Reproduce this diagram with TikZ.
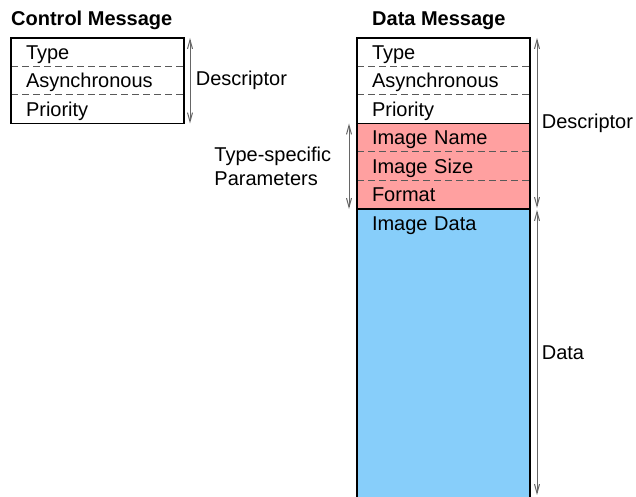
\documentclass[tikz,border=0pt]{standalone}
\usepackage{fontspec}
\setmainfont{Liberation Sans}
\usetikzlibrary{positioning,arrows.meta}
\definecolor{paramred}{RGB}{255,160,160}
\definecolor{datablue}{RGB}{135,206,250}
\tikzset{
  field/.style={minimum width=173pt, minimum height=28.5pt, inner xsep=15pt, inner ysep=0pt,
    outer sep=0pt, text width=143pt, align=left, text height=14pt, text depth=0pt},
  boxedge/.style={line width=1.5pt},
  rowline/.style={dash pattern=on 7pt off 4pt, draw=black!65, line width=1pt},
  spanarrow/.style={{Straight Barb[length=9pt,width=5pt]}-{Straight Barb[length=9pt,width=5pt]},
    draw=black!60, line width=1pt},
  msgtitle/.style={font=\fontsize{20}{24}\selectfont\bfseries, inner sep=0pt, anchor=base west}
}
\begin{document}
\begin{tikzpicture}[x=1pt,y=-1pt,font=\fontsize{20}{24}\selectfont]
  \useasboundingbox (0,0) rectangle (636,497);
  \clip (0,0) rectangle (636,497);
  % control message
  \node[field, anchor=north west] (ctype) at (11,38) {Type};
  \node[field, below=0pt of ctype] (casync) {Asynchronous};
  \node[field, below=0pt of casync] (cprio) {Priority};
  \draw[rowline] (ctype.south west) -- (ctype.south east);
  \draw[rowline] (casync.south west) -- (casync.south east);
  \draw[boxedge] (ctype.north west) rectangle (cprio.south east);
  \node[msgtitle] (ctitle) at ([yshift=12pt]ctype.north west) {Control Message};
  \draw[spanarrow] ([xshift=6pt]ctype.north east) -- node[right=2pt] (cdesc) {Descriptor} ([xshift=6pt]cprio.south east);
  % data message
  \node[field, anchor=north west] (dtype) at (357,38) {Type};
  \node[field, below=0pt of dtype] (dasync) {Asynchronous};
  \node[field, below=0pt of dasync] (dprio) {Priority};
  \node[field, fill=paramred, below=0pt of dprio] (dname) {Image Name};
  \node[field, fill=paramred, below=0pt of dname] (dsize) {Image Size};
  \node[field, fill=paramred, below=0pt of dsize] (dfmt) {Format};
  \node[field, fill=datablue, inner ysep=7.25pt, text depth=264pt, below=0pt of dfmt] (dimg) {Image Data};
  \draw[rowline] (dtype.south west) -- (dtype.south east);
  \draw[rowline] (dasync.south west) -- (dasync.south east);
  \draw[rowline] (dname.south west) -- (dname.south east);
  \draw[rowline] (dsize.south west) -- (dsize.south east);
  \draw[boxedge] (dprio.south west) -- (dprio.south east);
  \draw[boxedge] (dfmt.south west) -- (dfmt.south east);
  \draw[boxedge] (dimg.south west) |- (dtype.north east) -- (dimg.south east);
  \node[msgtitle] (dtitle) at ([xshift=15pt,yshift=12pt]dtype.north west) {Data Message};
  \draw[spanarrow] ([xshift=7pt]dtype.north east) -- node[right=1pt] (ddesc) {Descriptor} ([xshift=7pt,yshift=1pt]dfmt.south east);
  \coordinate (dend) at (537,495);
  \draw[spanarrow] ([xshift=7pt,yshift=-1pt]dimg.north east) -- node[right=1pt] (ddata) {Data} (dend);
  \draw[spanarrow] ([xshift=-8pt]dname.north west) -- node[left=14pt, align=left] (tparams) {Type-specific\\Parameters} ([xshift=-8pt]dfmt.south west);
\end{tikzpicture}
\end{document}
